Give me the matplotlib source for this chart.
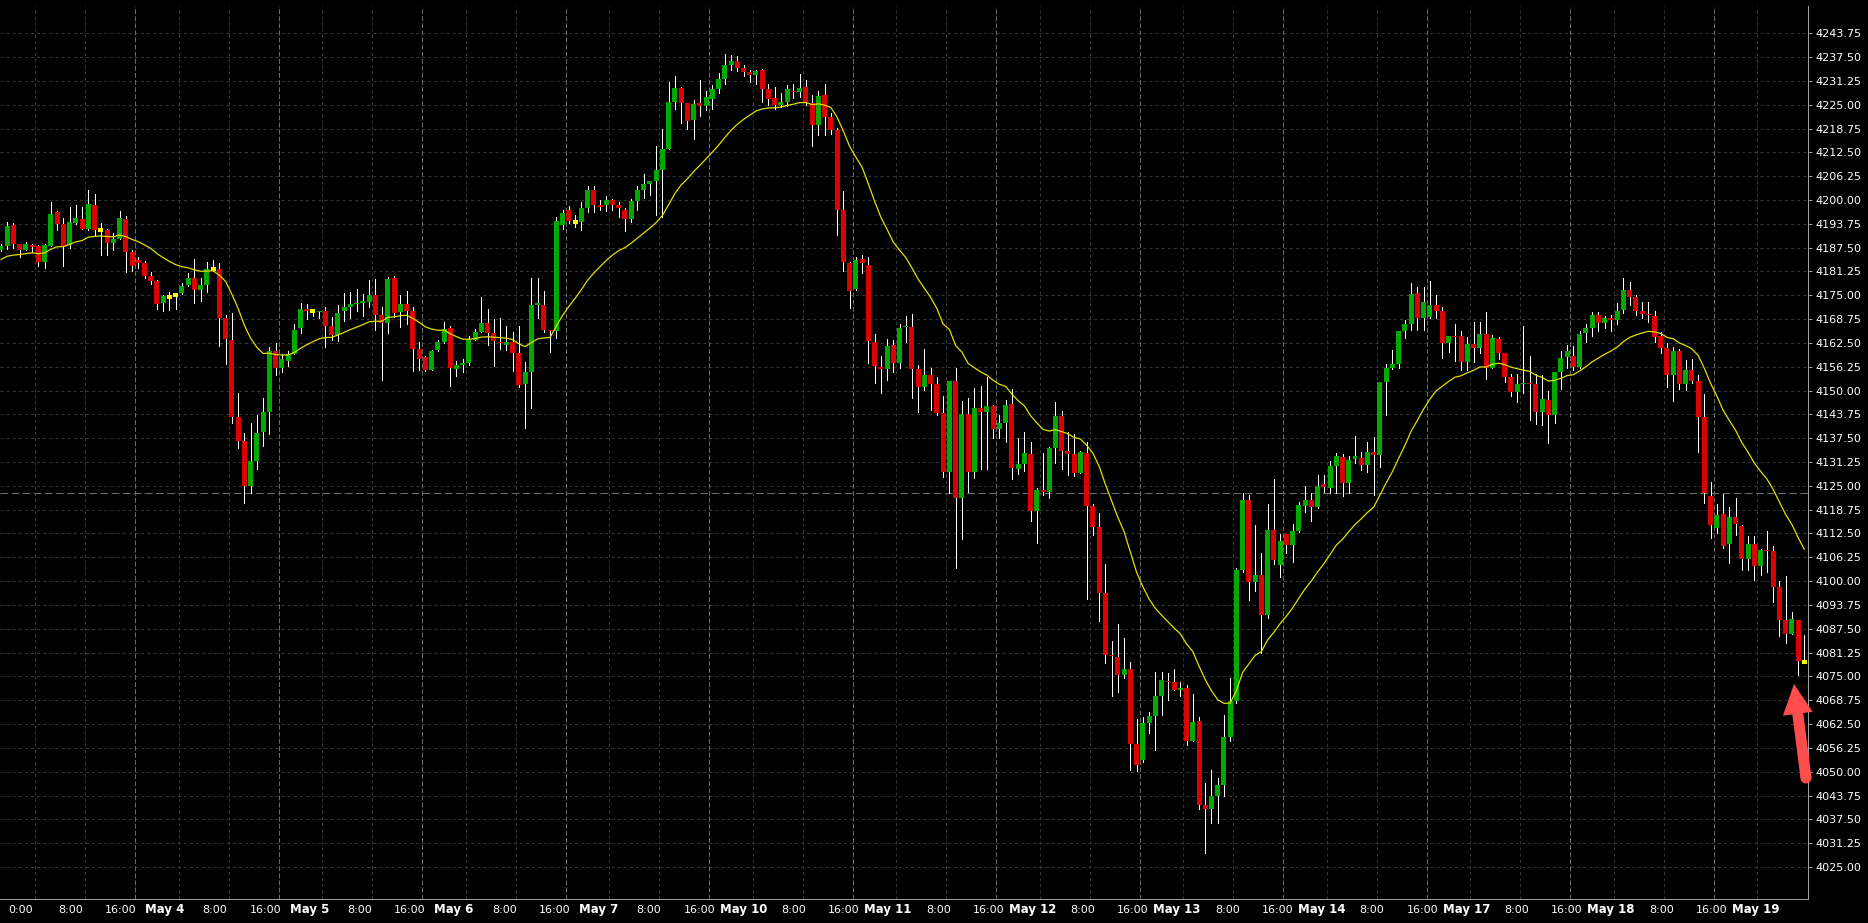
import numpy as np
import pandas as pd
import matplotlib
matplotlib.use("Agg")
import matplotlib.pyplot as plt
from matplotlib.patches import FancyArrow, Circle
from matplotlib.transforms import IdentityTransform

# H1 candles (bar 0 = left edge)
opens = [4187.0, 4188.0, 4193.5, 4188.5, 4187.0, 4188.25, 4188.0, 4183.75, 4188.0, 4196.75,
         4193.75, 4188.25, 4194.0, 4195.0, 4192.5, 4198.75, 4192.0, 4192.0, 4188.75, 4189.75,
         4195.0, 4186.25, 4184.25, 4183.5, 4180.0, 4178.75, 4173.0, 4174.5, 4175.0, 4175.5,
         4177.75, 4179.5, 4176.5, 4177.75, 4182.0, 4182.0, 4169.0, 4163.25, 4143.0, 4136.75,
         4125.0, 4131.5, 4139.0, 4144.5, 4160.5, 4156.0, 4157.75, 4159.5, 4166.5, 4171.5,
         4170.75, 4170.5, 4170.75, 4167.0, 4164.5, 4170.75, 4172.0, 4172.75, 4173.0, 4173.25,
         4175.0, 4169.75, 4167.75, 4179.5, 4170.5, 4172.75, 4170.75, 4161.0, 4158.75, 4155.5,
         4160.75, 4162.75, 4166.5, 4155.75, 4156.75, 4157.25, 4163.25, 4165.25, 4167.75, 4165.0,
         4162.75, 4162.0, 4162.75, 4159.75, 4151.75, 4155.0, 4172.5, 4172.5, 4166.0, 4165.5,
         4193.5, 4197.5, 4194.25, 4194.25, 4198.0, 4202.5, 4198.75, 4198.75, 4200.0, 4198.75,
         4197.5, 4195.0, 4199.75, 4202.5, 4204.25, 4205.0, 4207.75, 4213.5, 4225.75, 4229.5,
         4225.5, 4221.0, 4225.5, 4224.75, 4226.5, 4229.0, 4231.75, 4235.5, 4236.5, 4234.75,
         4233.5, 4232.75, 4234.0, 4229.0, 4226.75, 4225.0, 4225.75, 4228.5, 4228.25, 4229.75,
         4225.5, 4219.75, 4227.5, 4221.75, 4218.25, 4197.25, 4183.5, 4176.75, 4184.5, 4183.0,
         4162.75, 4156.25, 4155.75, 4162.0, 4157.25, 4166.75, 4166.75, 4155.75, 4151.0, 4154.0,
         4151.75, 4144.0, 4128.75, 4152.5, 4121.75, 4143.75, 4128.75, 4145.5, 4144.5, 4146.0,
         4140.0, 4141.5, 4146.5, 4129.5, 4130.75, 4133.25, 4118.5, 4124.0, 4123.5, 4135.0,
         4143.25, 4134.25, 4133.25, 4128.25, 4133.5, 4119.75, 4114.25, 4097.0, 4080.5, 4080.0,
         4075.25, 4077.0, 4057.25, 4053.0, 4062.75, 4064.5, 4069.75, 4073.75, 4073.5, 4071.5,
         4072.0, 4058.0, 4063.25, 4041.25, 4040.25, 4043.5, 4046.5, 4059.0, 4068.5, 4103.0,
         4121.25, 4099.75, 4101.5, 4091.0, 4113.5, 4104.25, 4112.25, 4109.5, 4113.25, 4119.75,
         4121.25, 4119.5, 4125.5, 4124.5, 4130.25, 4132.5, 4125.75, 4132.0, 4132.25, 4130.5,
         4134.0, 4133.0, 4152.25, 4156.0, 4157.0, 4165.5, 4167.5, 4175.5, 4169.0, 4169.25,
         4172.5, 4170.75, 4162.5, 4164.25, 4164.25, 4157.5, 4162.25, 4161.25, 4164.75, 4156.0,
         4163.5, 4159.75, 4153.5, 4149.75, 4151.75, 4152.0, 4151.75, 4144.5, 4147.5, 4143.5,
         4154.75, 4158.75, 4159.0, 4156.25, 4165.0, 4166.5, 4169.75, 4167.75, 4169.0, 4168.5,
         4171.25, 4176.5, 4174.5, 4170.75, 4170.0, 4169.5, 4164.25, 4161.25, 4154.0, 4160.25,
         4151.75, 4155.5, 4152.5, 4143.0, 4122.25, 4114.0, 4117.5, 4109.75, 4116.75, 4114.5,
         4105.75, 4109.75, 4104.0, 4108.25, 4108.0, 4098.5, 4089.75, 4086.0, 4089.75, 4078.75]

highs = [4188.5, 4194.25, 4194.0, 4188.5, 4189.0, 4188.5, 4188.25, 4188.5, 4199.5, 4197.0,
         4195.25, 4198.25, 4198.75, 4198.25, 4202.5, 4201.5, 4194.0, 4192.5, 4191.25, 4197.0,
         4195.75, 4187.0, 4185.0, 4184.0, 4181.0, 4179.0, 4175.0, 4175.75, 4175.5, 4178.25,
         4180.75, 4184.5, 4179.5, 4183.75, 4184.25, 4183.5, 4169.75, 4170.25, 4149.25, 4138.75,
         4141.5, 4143.5, 4148.0, 4161.5, 4162.5, 4159.5, 4160.25, 4167.5, 4173.0, 4172.75,
         4171.25, 4171.0, 4172.0, 4169.25, 4172.5, 4175.5, 4175.75, 4176.75, 4175.25, 4179.0,
         4179.25, 4172.0, 4179.75, 4180.0, 4175.0, 4176.0, 4172.0, 4162.75, 4159.0, 4160.75,
         4163.25, 4168.0, 4167.0, 4157.75, 4158.25, 4164.25, 4166.25, 4174.5, 4171.5, 4168.75,
         4169.0, 4167.0, 4165.25, 4167.0, 4157.5, 4179.5, 4179.5, 4176.0, 4166.0, 4195.5,
         4197.5, 4198.5, 4196.0, 4199.5, 4203.75, 4203.75, 4200.0, 4201.0, 4200.25, 4199.5,
         4198.0, 4200.25, 4203.75, 4206.75, 4205.0, 4214.25, 4218.75, 4231.0, 4232.5, 4229.75,
         4225.5, 4226.25, 4231.5, 4228.5, 4230.25, 4233.25, 4238.25, 4238.0, 4237.75, 4235.5,
         4234.0, 4234.0, 4234.25, 4230.5, 4229.75, 4228.0, 4230.25, 4230.5, 4233.0, 4231.5,
         4227.5, 4228.5, 4230.5, 4222.75, 4219.0, 4202.25, 4183.75, 4185.0, 4185.5, 4185.0,
         4164.75, 4159.0, 4163.5, 4163.25, 4167.5, 4169.5, 4170.0, 4156.75, 4161.0, 4156.0,
         4153.5, 4148.5, 4152.5, 4156.0, 4147.25, 4148.0, 4150.75, 4151.25, 4153.5, 4146.25,
         4143.5, 4147.5, 4150.5, 4137.5, 4139.0, 4136.5, 4124.5, 4133.5, 4135.25, 4147.0,
         4144.75, 4139.25, 4138.5, 4134.25, 4136.5, 4120.25, 4118.0, 4104.5, 4084.25, 4088.75,
         4085.0, 4078.75, 4063.75, 4064.25, 4065.75, 4076.25, 4076.25, 4076.0, 4077.0, 4073.5,
         4072.75, 4070.5, 4064.25, 4047.0, 4050.5, 4048.25, 4065.0, 4074.5, 4103.5, 4123.0,
         4122.5, 4114.75, 4107.5, 4120.25, 4126.75, 4112.25, 4112.25, 4115.0, 4120.75, 4125.0,
         4123.0, 4127.75, 4127.75, 4131.5, 4133.5, 4133.25, 4132.75, 4138.0, 4133.75, 4136.5,
         4137.75, 4152.25, 4157.0, 4160.75, 4165.75, 4168.5, 4178.25, 4177.25, 4177.25, 4178.75,
         4175.0, 4172.0, 4164.25, 4167.5, 4165.5, 4164.0, 4168.0, 4168.0, 4170.5, 4164.5,
         4164.0, 4159.75, 4154.25, 4154.25, 4167.0, 4159.0, 4154.25, 4154.0, 4150.0, 4155.0,
         4160.25, 4162.0, 4161.75, 4165.75, 4167.5, 4170.5, 4170.5, 4169.5, 4169.75, 4173.0,
         4179.5, 4178.5, 4175.0, 4173.25, 4173.25, 4171.0, 4165.25, 4162.5, 4161.5, 4161.0,
         4158.0, 4158.25, 4154.0, 4149.0, 4126.0, 4120.25, 4122.75, 4119.5, 4121.75, 4114.75,
         4111.75, 4111.75, 4108.5, 4113.25, 4109.25, 4100.0, 4101.25, 4092.0, 4089.75, 4085.75]

lows = [4186.5, 4187.25, 4187.5, 4185.0, 4187.0, 4186.25, 4182.75, 4182.25, 4188.0, 4192.0,
        4182.75, 4187.5, 4193.75, 4192.5, 4192.0, 4190.5, 4185.5, 4185.5, 4186.75, 4189.75,
        4181.0, 4181.5, 4182.25, 4179.5, 4178.0, 4171.5, 4171.0, 4171.25, 4171.5, 4175.25,
        4177.5, 4173.0, 4173.5, 4175.75, 4181.25, 4161.75, 4157.0, 4141.5, 4135.0, 4120.5,
        4123.25, 4129.5, 4135.5, 4138.5, 4154.0, 4155.0, 4156.5, 4159.5, 4165.0, 4168.75,
        4169.5, 4169.0, 4161.5, 4163.25, 4163.0, 4168.25, 4169.0, 4171.0, 4169.5, 4172.0,
        4166.0, 4152.75, 4165.0, 4169.25, 4166.75, 4167.5, 4155.25, 4155.5, 4155.25, 4155.5,
        4160.5, 4162.5, 4151.25, 4153.75, 4154.75, 4156.75, 4163.25, 4165.25, 4162.0, 4156.5,
        4161.0, 4160.75, 4155.25, 4151.0, 4140.25, 4145.5, 4169.0, 4165.25, 4160.0, 4163.75,
        4192.5, 4194.0, 4193.0, 4192.0, 4196.75, 4196.75, 4197.25, 4197.0, 4197.5, 4195.5,
        4191.75, 4194.25, 4197.5, 4200.5, 4201.25, 4196.0, 4195.5, 4213.5, 4224.0, 4220.25,
        4218.5, 4216.0, 4222.0, 4223.5, 4224.0, 4228.0, 4230.5, 4234.0, 4233.75, 4232.5,
        4231.0, 4230.5, 4225.75, 4225.0, 4224.0, 4224.5, 4224.75, 4226.75, 4227.0, 4225.0,
        4214.25, 4217.0, 4217.0, 4217.25, 4190.75, 4181.5, 4171.75, 4176.5, 4180.75, 4157.25,
        4152.0, 4149.25, 4152.75, 4154.75, 4156.0, 4162.75, 4148.0, 4144.5, 4150.25, 4145.0,
        4143.5, 4127.25, 4123.0, 4103.5, 4111.0, 4123.5, 4127.0, 4129.5, 4129.5, 4137.5,
        4137.5, 4136.5, 4126.75, 4128.0, 4129.0, 4115.75, 4110.0, 4122.5, 4121.75, 4131.0,
        4129.5, 4127.75, 4127.5, 4128.25, 4095.25, 4112.0, 4089.5, 4078.5, 4069.75, 4071.0,
        4074.5, 4050.5, 4050.25, 4052.5, 4060.25, 4055.75, 4065.0, 4068.75, 4071.5, 4069.75,
        4057.0, 4058.0, 4040.25, 4028.75, 4036.5, 4036.5, 4043.5, 4058.0, 4068.0, 4102.5,
        4095.0, 4097.5, 4081.25, 4090.25, 4104.5, 4101.0, 4107.5, 4105.0, 4113.0, 4118.25,
        4115.75, 4119.25, 4123.5, 4123.0, 4123.0, 4122.25, 4123.25, 4131.0, 4129.25, 4128.75,
        4122.5, 4130.0, 4143.5, 4155.75, 4156.0, 4163.75, 4166.0, 4166.0, 4166.0, 4169.0,
        4169.0, 4158.5, 4160.0, 4157.75, 4155.5, 4155.5, 4157.5, 4159.75, 4153.0, 4156.0,
        4158.25, 4152.25, 4148.5, 4147.0, 4149.25, 4142.25, 4141.25, 4141.0, 4136.25, 4141.5,
        4150.5, 4156.0, 4155.5, 4156.0, 4162.75, 4164.25, 4165.75, 4166.5, 4165.5, 4167.5,
        4170.25, 4172.5, 4169.75, 4169.0, 4168.0, 4162.75, 4159.75, 4151.0, 4147.25, 4150.5,
        4150.25, 4152.0, 4133.75, 4120.5, 4111.25, 4112.5, 4108.75, 4104.75, 4112.0, 4103.0,
        4103.0, 4100.25, 4101.5, 4102.5, 4094.5, 4085.5, 4083.75, 4086.0, 4075.25, 4078.5]

closes = [4188.0, 4193.25, 4188.5, 4187.0, 4188.5, 4187.75, 4183.75, 4188.25, 4196.25, 4193.75,
          4188.0, 4194.25, 4195.25, 4192.5, 4199.0, 4192.0, 4192.0, 4188.75, 4189.75, 4195.25,
          4186.25, 4182.75, 4183.5, 4180.0, 4178.75, 4172.75, 4174.75, 4174.5, 4175.0, 4177.5,
          4179.5, 4176.5, 4177.75, 4182.0, 4182.0, 4169.0, 4163.5, 4143.0, 4136.75, 4125.0,
          4131.5, 4138.75, 4144.25, 4160.5, 4156.0, 4158.25, 4159.5, 4166.0, 4171.5, 4170.75,
          4170.75, 4170.75, 4167.0, 4164.5, 4170.25, 4172.0, 4172.75, 4173.0, 4173.5, 4175.0,
          4169.75, 4167.75, 4179.25, 4170.25, 4172.75, 4171.0, 4161.0, 4158.25, 4155.5, 4160.5,
          4162.75, 4166.25, 4156.0, 4156.75, 4157.25, 4163.25, 4165.25, 4167.75, 4165.0, 4163.0,
          4162.5, 4162.75, 4159.75, 4151.5, 4154.75, 4172.5, 4173.0, 4166.0, 4165.5, 4194.5,
          4196.5, 4194.5, 4194.25, 4198.0, 4202.5, 4198.75, 4198.25, 4200.0, 4198.75, 4198.0,
          4195.0, 4199.75, 4202.5, 4204.25, 4205.0, 4207.75, 4213.5, 4225.75, 4229.5, 4225.5,
          4220.75, 4225.25, 4224.75, 4227.0, 4229.0, 4231.75, 4235.5, 4236.5, 4234.75, 4233.5,
          4232.75, 4233.75, 4229.0, 4226.5, 4225.0, 4225.75, 4229.0, 4228.25, 4229.5, 4225.75,
          4219.75, 4227.25, 4221.75, 4218.25, 4197.5, 4183.75, 4176.0, 4184.25, 4183.5, 4163.0,
          4156.5, 4155.75, 4161.75, 4157.25, 4166.5, 4167.0, 4155.75, 4151.0, 4154.0, 4151.75,
          4144.0, 4128.75, 4152.5, 4121.75, 4143.75, 4128.75, 4145.5, 4144.5, 4146.0, 4140.0,
          4141.5, 4146.25, 4129.75, 4130.75, 4133.5, 4118.5, 4124.0, 4123.5, 4135.0, 4143.25,
          4134.25, 4133.25, 4128.25, 4133.75, 4119.75, 4114.25, 4097.0, 4080.5, 4080.25, 4075.25,
          4077.0, 4057.25, 4051.75, 4062.75, 4064.5, 4069.75, 4074.0, 4073.5, 4071.5, 4072.0,
          4058.0, 4063.0, 4041.25, 4040.25, 4043.5, 4046.5, 4059.0, 4068.5, 4103.0, 4121.25,
          4099.75, 4101.5, 4091.0, 4113.5, 4105.5, 4110.5, 4109.5, 4113.25, 4120.0, 4121.25,
          4119.5, 4125.0, 4124.75, 4130.25, 4132.75, 4125.75, 4131.75, 4132.75, 4130.5, 4134.0,
          4133.0, 4152.25, 4156.0, 4157.0, 4165.5, 4167.5, 4175.25, 4169.0, 4173.25, 4172.5,
          4170.75, 4162.5, 4164.25, 4164.0, 4157.5, 4162.25, 4161.25, 4164.75, 4156.0, 4163.75,
          4159.75, 4153.5, 4149.75, 4151.75, 4152.0, 4151.75, 4144.5, 4147.75, 4143.5, 4154.75,
          4158.5, 4160.5, 4156.25, 4164.75, 4166.5, 4169.75, 4167.75, 4169.0, 4168.5, 4171.0,
          4176.5, 4174.5, 4170.75, 4170.0, 4169.75, 4164.0, 4161.25, 4154.0, 4160.25, 4151.75,
          4155.5, 4152.5, 4143.0, 4123.0, 4114.75, 4117.25, 4109.25, 4116.75, 4115.0, 4105.75,
          4109.75, 4104.0, 4108.25, 4108.0, 4098.5, 4089.75, 4086.0, 4090.0, 4079.0, 4078.75]

# exponential moving average: value read at the first bar, then EMA(20) of the closes
ma_start = 4184.4
ma_period = 20

hline_price = 4123.0
price_ticks = np.arange(4025.0, 4243.76, 6.25)

day_names = ['May 4', 'May 5', 'May 6', 'May 7', 'May 10', 'May 11',
             'May 12', 'May 13', 'May 14', 'May 17', 'May 18', 'May 19']
bars_per_day = 23
first_sep = 21.5      # bar position of the first period separator
label_scale = 1.0077  # time labels run on a slightly wider spacing than the bars
label_shift = -2.47

plt.rcParams['lines.scale_dashes'] = False
W, H = 1868, 923
fig = plt.figure(figsize=(W / 100, H / 100), dpi=100, facecolor='black')
ax = fig.add_axes([0, 24 / H, 1808 / W, 893 / H])
ax.set_facecolor('black')

o = np.array(opens)
h = np.array(highs)
l = np.array(lows)
c = np.array(closes)
n = len(c)
x = np.arange(n)

ax.set_xlim(-0.16, n - 0.4)
ax.set_ylim(4016.6, 4250.9)

# horizontal grid
for p in price_ticks:
    ax.axhline(p, color='#363636', lw=0.72, ls=(0, (2.2, 2.2)), zorder=0.5)
ax.axhline(hline_price, color='#707070', lw=0.72, ls=(0, (5.5, 2.5)), zorder=1)

# vertical grid, period separators and time labels
xaxis_tr = ax.get_xaxis_transform()
marks = [(first_sep - 16, '0:00', False, False), (first_sep - 8, '8:00', False, False)]
for d, name in enumerate(day_names):
    s = first_sep + d * bars_per_day
    marks += [(s, '16:00', False, True), (s + 7, name, True, False), (s + 15, '8:00', False, False)]
for pos, txt, bold, is_sep in marks:
    if pos > n - 1:
        continue
    if is_sep:
        ax.axvline(pos, color='#6a6a6a', lw=0.72, ls=(0, (3.5, 1.6)), zorder=1)
    else:
        ax.axvline(pos, color='#363636', lw=0.72, ls=(0, (2.2, 2.2)), zorder=0.5)
    ax.text(pos * label_scale + label_shift, -14 / 893, txt, transform=xaxis_tr,
            ha='center', va='baseline', color='white',
            fontsize=8.5 if bold else 8, fontweight='bold' if bold else 'normal')

# candles
up = c > o
dn = c < o
dj = c == o
ax.vlines(x, l, h, color='white', lw=0.7, zorder=2, antialiased=False)
ax.bar(x[up], (c - o)[up], bottom=o[up], width=0.8, color='#00aa00', lw=0, zorder=3,
       antialiased=False)
ax.bar(x[dn], (o - c)[dn], bottom=c[dn], width=0.8, color='#dd0000', lw=0, zorder=3,
       antialiased=False)
ax.hlines(c[dj], x[dj] - 0.4, x[dj] + 0.4, color='#ffff00', lw=1.5, zorder=3,
          antialiased=False)

# moving average
ma = pd.Series([ma_start] + closes[1:]).ewm(span=ma_period, adjust=False).mean()
ax.plot(x, ma, color='#e0e000', lw=0.9, zorder=4)

# axes look
for side in ['left', 'top']:
    ax.spines[side].set_visible(False)
for side in ['right', 'bottom']:
    ax.spines[side].set_color('#a0a0a0')
    ax.spines[side].set_linewidth(0.72)
ax.set_xticks([])
ax.yaxis.tick_right()
ax.set_yticks(price_ticks)
ax.set_yticklabels([f'{p:.2f}' for p in price_ticks])
ax.tick_params(axis='y', colors='#a0a0a0', labelcolor='white', length=3, width=0.72,
               pad=2, labelsize=8)

# red arrow pointing at the last candle (figure pixels)
arrow_color = '#ff4c4c'
tail = (1806, H - 778)
tip = (1794, H - 684)
arr = FancyArrow(tail[0], tail[1], tip[0] - tail[0], tip[1] - tail[1], width=11,
                 head_width=30, head_length=30, length_includes_head=True,
                 color=arrow_color, lw=0, transform=IdentityTransform())
fig.add_artist(arr)
fig.add_artist(Circle(tail, 5.5, color=arrow_color, lw=0, transform=IdentityTransform()))

fig.savefig('out.png', dpi=100, facecolor='black')
